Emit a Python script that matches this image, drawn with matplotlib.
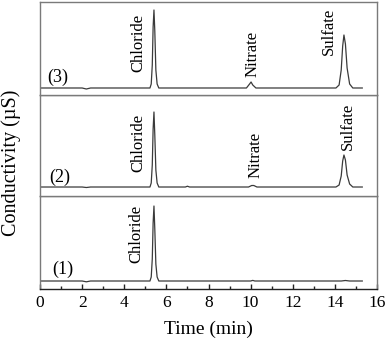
import matplotlib
matplotlib.use("Agg")
import matplotlib.pyplot as plt
from matplotlib.ticker import MultipleLocator

plt.rcParams['font.family'] = ['Liberation Serif', 'DejaVu Serif']

# traces (time in min, signal in arbitrary units, baseline = 0)
t1 = [0.0, 2.0, 2.2, 2.4, 5.22, 5.28, 5.33, 5.37, 5.41, 5.45, 5.50, 5.56, 5.64, 7.0, 10.0, 10.1, 10.2, 14.3, 14.5, 14.7, 15.3]
y1 = [0, 0, -0.8, 0, 0, 4, 22, 58, 75, 52, 17, 4, 0, 0, 0, 0.6, 0, 0, 0.5, 0, 0]

t2 = [0.0, 2.0, 2.2, 2.4, 5.22, 5.28, 5.33, 5.37, 5.41, 5.45, 5.50, 5.56, 5.64,
      6.9, 7.0, 7.1, 9.9, 10.05, 10.15, 10.3, 14.05, 14.2, 14.3, 14.37, 14.43, 14.5, 14.58, 14.7, 14.85, 15.3]
y2 = [0, 0, -0.5, 0, 0, 4, 22, 58, 75, 52, 17, 4, 0,
      0, 0.8, 0, 0, 1.5, 1.5, 0, 0, 2, 11, 26, 32, 27, 12, 3, 0, 0]

t3 = [0.0, 2.0, 2.2, 2.4, 5.22, 5.28, 5.33, 5.37, 5.41, 5.45, 5.50, 5.56, 5.64,
      9.8, 9.95, 10.02, 10.1, 10.25, 14.05, 14.2, 14.3, 14.37, 14.43, 14.5, 14.58, 14.7, 14.85, 15.3]
y3 = [0, 0, -1, 0, 0, 4, 23, 61, 78, 57, 18, 4, 0,
      0, 4, 6, 3, 0, 0, 3, 18, 42, 53, 44, 20, 4, 0, 0]

panel_tags = ['(1)', '(2)', '(3)']
ylims = [(-8, 85), (-9, 92), (-7, 86)]
# peak labels: (text, x, bottom y) per panel
peak_labels = [
    [('Chloride', 4.56, 18)],
    [('Chloride', 4.65, 15), ('Nitrate', 10.21, 9), ('Sulfate', 14.62, 37)],
    [('Chloride', 4.65, 16), ('Nitrate', 10.11, 11), ('Sulfate', 13.72, 33)],
]
tag_pos = [(0.57, 12), (0.43, 10), (0.33, 11)]

fig = plt.figure(figsize=(3.87, 3.4), dpi=100)
frame = '#7a7a7a'
line_c = '#3a3a3a'

# axes rectangles in figure fraction, bottom panel first
rects = [[0.1034, 0.15, 0.8708, 0.2735],
         [0.1034, 0.4235, 0.8708, 0.2971],
         [0.1034, 0.7206, 0.8708, 0.2735]]
traces = [(t1, y1), (t2, y2), (t3, y3)]

axes = []
for i in range(3):
    ax = fig.add_axes(rects[i])
    t, y = traces[i]
    ax.plot(t, y, color=line_c, lw=0.9)
    ax.set_xlim(0, 16)
    ax.set_ylim(*ylims[i])
    ax.set_yticks([])
    for s in ax.spines.values():
        s.set_color(frame)
        s.set_linewidth(1.0)
    ax.text(tag_pos[i][0], tag_pos[i][1], panel_tags[i], fontsize=13, va='center', ha='left')
    for name, x, yb in peak_labels[i]:
        ax.text(x, yb, name, rotation=90, fontsize=12, ha='center', va='bottom')
    if i == 0:
        ax.xaxis.set_major_locator(MultipleLocator(2))
        ax.xaxis.set_minor_locator(MultipleLocator(1))
        ax.tick_params(axis='x', which='major', direction='in', length=3.5, width=1.0,
                       color='#222222', labelsize=12.5, pad=4)
        ax.tick_params(axis='x', which='minor', direction='in', length=2.5, width=1.0, color='#222222')
        ax.spines['bottom'].set_color('#222222')
        ax.set_xlabel('Time (min)', fontsize=14, labelpad=7)
    else:
        ax.set_xticks([])
    axes.append(ax)

fig.text(0.03, 0.52, 'Conductivity (\u00b5S)', rotation=90, fontsize=14.5, ha='center', va='center')

plt.savefig('out.png', dpi=100)
